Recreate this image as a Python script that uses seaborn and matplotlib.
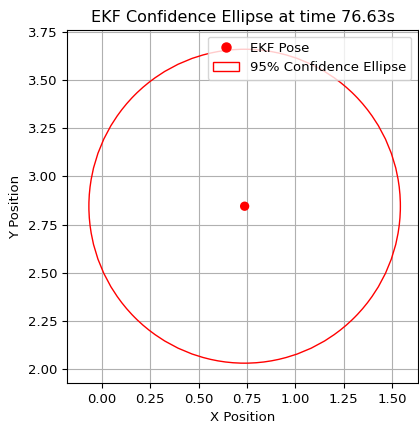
import matplotlib
matplotlib.use("Agg")
import matplotlib.pyplot as plt
import seaborn as sns
import pandas as pd
from matplotlib.patches import Ellipse, Patch
from matplotlib.lines import Line2D

# Data
pose_x = [0.738]
pose_y = [2.845]
ellipse_width = [1.608]
ellipse_height = [1.63]
ellipse_angle = [0.0]
time_s = "76.63"

df = pd.DataFrame({"x": pose_x, "y": pose_y})

fig = plt.figure(figsize=(4.19, 4.23), dpi=100)
ax = fig.add_axes([67/419, 40/423, (418-67)/419, (383-30)/423])

sns.scatterplot(data=df, x="x", y="y", ax=ax, color="red", s=45, edgecolor="none", zorder=3)
for cx, cy, w, h, a in zip(pose_x, pose_y, ellipse_width, ellipse_height, ellipse_angle):
    ax.add_patch(Ellipse((cx, cy), w, h, angle=a, edgecolor="red", facecolor="none", lw=1.0, zorder=2))

ax.set_xlim(-0.179, 1.633)
ax.set_ylim(1.927, 3.76)
ax.grid(True, color="#b0b0b0", lw=0.8)
ax.set_axisbelow(True)
ax.set_xticks([0, 0.25, 0.5, 0.75, 1.0, 1.25, 1.5])
ax.set_yticks([2.0, 2.25, 2.5, 2.75, 3.0, 3.25, 3.5, 3.75])
ax.tick_params(labelsize=9.5)
ax.set_xlabel("X Position", fontsize=9.5)
ax.set_ylabel("Y Position", fontsize=9.5)
ax.set_title(f"EKF Confidence Ellipse at time {time_s}s", fontsize=11.5)

handles = [
    Line2D([], [], marker="o", color="red", ls="none", markersize=6.5),
    Patch(edgecolor="red", facecolor="none"),
]
ax.legend(handles, ["EKF Pose", "95% Confidence Ellipse"], loc="upper right", fontsize=9.5)

fig.savefig("out.png", dpi=100)
